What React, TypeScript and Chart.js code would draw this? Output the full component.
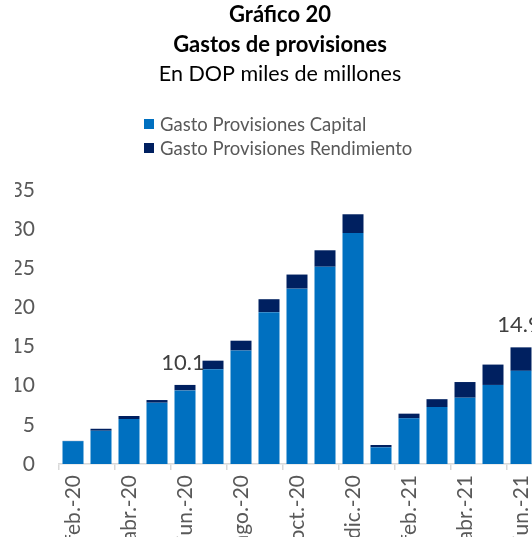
import React, { useEffect, useRef } from 'react';
import { Chart, registerables } from 'chart.js';

Chart.register(...registerables);

const categories = [
  'feb.-20', 'mar.-20', 'abr.-20', 'may.-20', 'jun.-20', 'jul.-20', 'ago.-20', 'sep.-20',
  'oct.-20', 'nov.-20', 'dic.-20', 'ene.-21', 'feb.-21', 'mar.-21', 'abr.-21', 'may.-21', 'jun.-21',
];
const capital = [2.92, 4.25, 5.75, 7.83, 9.4, 12.1, 14.5, 19.4, 22.4, 25.2, 29.5, 2.13, 5.83, 7.28, 8.47, 10.1, 11.9];
const rendimiento = [0.03, 0.25, 0.38, 0.34, 0.7, 1.1, 1.25, 1.65, 1.8, 2.1, 2.4, 0.3, 0.6, 1.0, 2.0, 2.6, 3.0];
const seriesNames = ['Gasto Provisiones Capital', 'Gasto Provisiones Rendimiento'];
const seriesColors = ['#0070C0', '#002060'];
const yMin = 0;
const yMax = 35;
const yStep = 5;
const labeledIndices = [4, 16];
const titleLines = ['Gráfico 20', 'Gastos de provisiones'];
const subtitleText = 'En DOP miles de millones';

const FONT = 'Lato, "Open Sans", "DejaVu Sans", sans-serif';
const GRAY = '#595959';

const overlayPlugin = {
  id: 'overlay',
  afterDraw(chart: any) {
    const ctx = chart.ctx;
    const cx = chart.width / 2;
    ctx.save();
    ctx.textAlign = 'center';
    ctx.textBaseline = 'middle';
    ctx.fillStyle = '#000000';
    ctx.font = `bold 22px ${FONT}`;
    ctx.fillText(titleLines[0], cx, 15);
    ctx.fillText(titleLines[1], cx, 45);
    ctx.font = `21.5px ${FONT}`;
    ctx.fillText(subtitleText, cx, 74);

    // legend (stacked)
    ctx.textAlign = 'left';
    ctx.font = `18.5px ${FONT}`;
    chart.data.datasets.forEach((ds: any, i: number) => {
      const y = 124 + i * 24;
      ctx.fillStyle = ds.backgroundColor;
      ctx.fillRect(144, y - 5, 10, 10);
      ctx.fillStyle = GRAY;
      ctx.fillText(ds.label, 160, y + 1);
    });

    // total labels
    ctx.textAlign = 'center';
    ctx.textBaseline = 'alphabetic';
    ctx.fillStyle = '#404040';
    ctx.font = `22px ${FONT}`;
    const meta = chart.getDatasetMeta(chart.data.datasets.length - 1);
    labeledIndices.forEach((i) => {
      const el = meta.data[i];
      const total = capital[i] + rendimiento[i];
      ctx.fillText(total.toFixed(1), el.x - 2, el.y - 15);
    });
    ctx.restore();
  },
};

export default function App() {
  const ref = useRef<HTMLCanvasElement | null>(null);

  useEffect(() => {
    if (!ref.current) return;
    const chart = new Chart(ref.current, {
      type: 'bar',
      data: {
        labels: categories,
        datasets: [
          { label: seriesNames[0], data: capital, backgroundColor: seriesColors[0], borderWidth: 0 },
          { label: seriesNames[1], data: rendimiento, backgroundColor: seriesColors[1], borderWidth: 0 },
        ],
      },
      options: {
        animation: false,
        responsive: false,
        devicePixelRatio: 1,
        layout: { padding: { top: 190, left: 15, right: 25, bottom: 16 } },
        datasets: { bar: { categoryPercentage: 1, barPercentage: 0.75 } },
        plugins: {
          legend: { display: false },
          title: { display: false },
          tooltip: { enabled: false },
        },
        scales: {
          x: {
            stacked: true,
            offset: true,
            afterFit: (s: any) => { s.height = 80; },
            border: { display: true, color: '#D9D9D9', width: 1.5 },
            grid: {
              display: true,
              offset: true,
              drawOnChartArea: false,
              drawTicks: true,
              tickLength: 6,
              color: (c: any) => (c.index % 2 === 0 ? '#D9D9D9' : 'rgba(0,0,0,0)'),
              lineWidth: 1.5,
            },
            ticks: {
              autoSkip: false,
              maxRotation: 90,
              minRotation: 90,
              padding: 5,
              color: GRAY,
              font: { family: FONT, size: 21 },
              callback: (_v: any, i: number) => (i % 2 === 0 ? categories[i] : ''),
            },
          },
          y: {
            stacked: true,
            min: yMin,
            max: yMax,
            afterFit: (s: any) => { s.width = 44; },
            border: { display: false },
            grid: { display: false, drawTicks: false },
            ticks: {
              stepSize: yStep,
              padding: 24,
              color: GRAY,
              font: { family: FONT, size: 21 },
            },
          },
        },
      },
      plugins: [overlayPlugin],
    });
    return () => chart.destroy();
  }, []);

  return (
    <div style={{ position: 'fixed', left: 0, top: 0, width: 532, height: 537, overflow: 'hidden', background: '#fff' }}>
      <canvas ref={ref} width={560} height={560} />
    </div>
  );
}
